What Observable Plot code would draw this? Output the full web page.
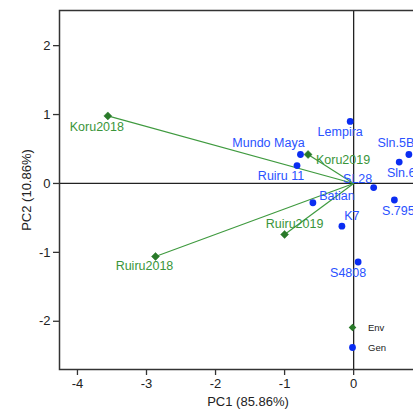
<!DOCTYPE html>
<html><head><meta charset="utf-8">
<script src="https://cdn.jsdelivr.net/npm/d3@7"></script>
<script src="https://cdn.jsdelivr.net/npm/@observablehq/plot@0.6"></script>
<style>
html,body{margin:0;padding:0;overflow:hidden;background:#fff;}
#wrap{position:relative;width:413px;height:411px;overflow:hidden;}
#wrap svg{max-width:none !important;}
#legend{position:absolute;left:0;top:0;}
</style>
</head><body><div id="wrap"></div>
<script>
// Genotypes (blue dots)
const genotypes = ["Lempira","Mundo Maya","Ruiru 11","Sln.5B","Sln.6","SL28","Batian","S.795","K7","S4808"];
const genPC1 = [-0.05,-0.77,-0.82,0.80,0.66,0.29,-0.59,0.59,-0.17,0.065];
const genPC2 = [0.90,0.42,0.26,0.42,0.31,-0.06,-0.28,-0.24,-0.62,-1.14];
// Environments (green diamonds + vectors)
const environments = ["Koru2018","Koru2019","Ruiru2018","Ruiru2019"];
const envPC1 = [-3.56,-0.66,-2.87,-1.00];
const envPC2 = [0.98,0.42,-1.06,-0.74];
// Ticks
const xTicks = [-4,-3,-2,-1,0];
const yTicks = [-2,-1,0,1,2];
const legendLabels = ["Env","Gen"];

// label placement (px offsets), kept apart from data
const labelOffset = {
  "Lempira":[-10,11],"Mundo Maya":[-32,-12],"Ruiru 11":[-16,10],"Sln.5B":[-13,-12],
  "Sln.6":[2,11],"SL28":[-16,-9],"Batian":[24,-7],"S.795":[4,11],"K7":[10,-10],"S4808":[-10,11],
  "Koru2018":[-11,11],"Koru2019":[35,5],"Ruiru2018":[-11,10],"Ruiru2019":[10,-10]
};

const gen = genotypes.map((n,i)=>({name:n,x:genPC1[i],y:genPC2[i],dx:labelOffset[n][0],dy:labelOffset[n][1]}));
const env = environments.map((n,i)=>({name:n,x:envPC1[i],y:envPC2[i],dx:labelOffset[n][0],dy:labelOffset[n][1]}));

const blueDot = "#0a2df2", blueText = "#2a52ff";
const greenLine = "#3f9a3f", greenDot = "#2a7a2a", greenText = "#3a953a";
const font = "Liberation Sans, Arial, sans-serif";
const fmt = d => String(d);

const textMarks = (data, fill) =>
  data.map(d => Plot.text([d], {x:"x", y:"y", text:"name", dx:d.dx, dy:d.dy, fill, fontSize:12.5, textAnchor:"middle"}));

const chart = Plot.plot({
  width: 436, height: 411,
  marginLeft: 59, marginRight: 0, marginTop: 10, marginBottom: 42,
  style: {fontFamily: font, fontSize: "12px", background: "#fff", color: "#222", maxWidth: "none"},
  x: {domain: [-4.26, 1.2], label: null},
  y: {domain: [-2.70, 2.51], label: null},
  marks: [
    Plot.ruleX([0], {stroke:"#222", strokeWidth:1.3}),
    Plot.ruleY([0], {stroke:"#222", strokeWidth:1.3}),
    Plot.link(env, {x1:0, y1:0, x2:"x", y2:"y", stroke:greenLine, strokeWidth:1.2}),
    Plot.dot(env, {x:"x", y:"y", symbol:"diamond2", r:3.6, fill:greenDot, stroke:greenDot, strokeWidth:0.5}),
    Plot.dot(gen, {x:"x", y:"y", r:3.4, fill:blueDot}),
    ...textMarks(gen, blueText),
    ...textMarks(env, greenText),
    Plot.frame({stroke:"#333", strokeWidth:1.5}),
    Plot.axisX({ticks:xTicks, tickFormat:fmt, tickSize:6, tickPadding:3, fontSize:13, stroke:"#333", strokeWidth:1.3, label:"PC1 (85.86%)", labelAnchor:"center", labelOffset:36, labelArrow:"none"}),
    Plot.axisY({ticks:yTicks, tickFormat:fmt, tickSize:6, tickPadding:3, fontSize:13, stroke:"#333", strokeWidth:1.3, label:"PC2 (10.86%)", labelAnchor:"center", labelOffset:38, labelArrow:"none"})
  ]
});
document.getElementById("wrap").appendChild(chart);

// Legend overlay
const ns = "http://www.w3.org/2000/svg";
const lg = document.createElementNS(ns, "svg");
lg.setAttribute("id","legend"); lg.setAttribute("width", 413); lg.setAttribute("height", 411);
const rowsY = [327.5, 347.5];
legendLabels.forEach((lab, i) => {
  const y = rowsY[i];
  let sym;
  if (lab === "Env") {
    sym = document.createElementNS(ns, "path");
    sym.setAttribute("d", `M352.5,${y-3.8}L356.3,${y}L352.5,${y+3.8}L348.7,${y}Z`);
    sym.setAttribute("fill", greenDot);
  } else {
    sym = document.createElementNS(ns, "circle");
    sym.setAttribute("cx", 352.5); sym.setAttribute("cy", y); sym.setAttribute("r", 3.4);
    sym.setAttribute("fill", blueDot);
  }
  lg.appendChild(sym);
  const t = document.createElementNS(ns, "text");
  t.setAttribute("x", 368); t.setAttribute("y", y + 3.5);
  t.setAttribute("font-family", font); t.setAttribute("font-size", "9.5px"); t.setAttribute("fill", "#222");
  t.textContent = lab;
  lg.appendChild(t);
});
document.getElementById("wrap").appendChild(lg);
</script></body></html>
